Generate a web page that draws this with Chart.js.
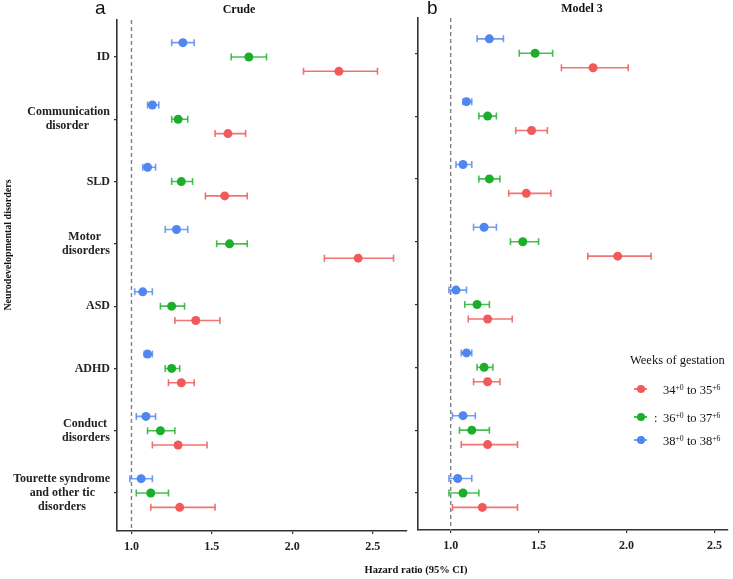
<!DOCTYPE html>
<html>
<head>
<meta charset="utf-8">
<script src="https://cdn.jsdelivr.net/npm/chart.js@4.4.0/dist/chart.umd.min.js"></script>
<style>
body{margin:0;background:#fff;}
#wrap{position:relative;width:733px;height:579px;overflow:hidden;font-family:"Liberation Serif","Times New Roman",serif;color:#111;}
#wrap canvas{position:absolute;top:0;}
.lbl{position:absolute;line-height:1;white-space:nowrap;}
.bold{font-weight:bold;}
.tag{font-family:"Liberation Sans",Arial,sans-serif;font-size:19px;}
.key{position:absolute;width:13px;height:8px;}
.key .ln{position:absolute;left:0;top:3px;width:13px;height:1.5px;}
.key .dt{position:absolute;left:2.5px;top:0;width:8px;height:8px;border-radius:50%;}
sup{font-size:0.62em;vertical-align:0.55em;line-height:0;}
</style>
</head>
<body>
<div id="wrap">
  <canvas id="crude" width="412" height="579" style="left:0"></canvas>
  <canvas id="model3" width="323" height="579" style="left:410px"></canvas>

  <div class="lbl tag" style="left:95px;top:-2px">a</div>
  <div class="lbl tag" style="left:427px;top:-2px">b</div>
  <div class="lbl bold" style="left:199px;top:2.5px;width:80px;text-align:center;font-size:12px">Crude</div>
  <div class="lbl bold" style="left:542px;top:2px;width:80px;text-align:center;font-size:12px">Model 3</div>
  <div class="lbl bold" style="left:336px;top:565px;width:160px;text-align:center;font-size:10.5px">Hazard ratio (95% CI)</div>
  <div class="lbl bold" style="left:-72px;top:240px;width:160px;text-align:center;font-size:10px;transform:rotate(-90deg)">Neurodevelopmental disorders</div>

  <div class="lbl" style="left:630px;top:353.5px;font-size:12.5px">Weeks of gestation</div>
  <div id="legend"></div>
</div>

<script>
// categories (top to bottom)
const categories = [
    "ID",
    ["Communication", "disorder"],
    "SLD",
    ["Motor", "disorders"],
    "ASD",
    "ADHD",
    ["Conduct", "disorders"],
    ["Tourette syndrome", "and other tic", "disorders"]
];
const seriesNames = [
    ["34", "+0", " to 35", "+6"],
    ["36", "+0", " to 37", "+6"],
    ["38", "+0", " to 38", "+6"]
];
const xTickValues = [1.0, 1.5, 2.0, 2.5];
const refLine = 1.0;

// Crude hazard ratios and 95% CI
const crudeHR34 = [2.29, 1.60, 1.58, 2.41, 1.40, 1.31, 1.29, 1.30];
const crudeLo34 = [2.07, 1.52, 1.46, 2.20, 1.27, 1.23, 1.13, 1.12];
const crudeHi34 = [2.53, 1.71, 1.72, 2.63, 1.55, 1.39, 1.47, 1.52];
const crudeHR36 = [1.73, 1.29, 1.31, 1.61, 1.25, 1.25, 1.18, 1.12];
const crudeLo36 = [1.62, 1.25, 1.25, 1.53, 1.18, 1.21, 1.10, 1.03];
const crudeHi36 = [1.84, 1.35, 1.38, 1.72, 1.33, 1.30, 1.27, 1.23];
const crudeHR38 = [1.32, 1.13, 1.10, 1.28, 1.07, 1.10, 1.09, 1.06];
const crudeLo38 = [1.25, 1.10, 1.07, 1.21, 1.02, 1.08, 1.03, 0.99];
const crudeHi38 = [1.39, 1.17, 1.15, 1.35, 1.13, 1.13, 1.15, 1.13];

// Model 3 hazard ratios and 95% CI
const m3HR34 = [1.81, 1.46, 1.43, 1.95, 1.21, 1.21, 1.21, 1.18];
const m3Lo34 = [1.63, 1.37, 1.33, 1.78, 1.10, 1.13, 1.06, 1.01];
const m3Hi34 = [2.01, 1.55, 1.57, 2.14, 1.35, 1.28, 1.38, 1.38];
const m3HR36 = [1.48, 1.21, 1.22, 1.41, 1.15, 1.19, 1.12, 1.07];
const m3Lo36 = [1.39, 1.16, 1.16, 1.34, 1.08, 1.15, 1.05, 0.99];
const m3Hi36 = [1.58, 1.26, 1.28, 1.50, 1.22, 1.24, 1.22, 1.16];
const m3HR38 = [1.22, 1.09, 1.07, 1.19, 1.03, 1.09, 1.07, 1.04];
const m3Lo38 = [1.15, 1.07, 1.03, 1.13, 0.99, 1.06, 1.01, 0.99];
const m3Hi38 = [1.30, 1.12, 1.12, 1.26, 1.09, 1.12, 1.14, 1.12];

// styles
const pointColors = ["#F05A5A", "#1BAE2A", "#4F86F0"];
const barColors = ["rgba(240,90,90,0.85)", "rgba(27,174,42,0.8)", "rgba(79,134,240,0.8)"];
const dodge = [0.23, 0, -0.23];
const inkColor = "#222";

function centerLines(label){
    if(!Array.isArray(label)){
        return label;
    }
    var ctx = document.createElement("canvas").getContext("2d");
    ctx.font = 'bold 12px "Liberation Serif"';
    var widths = label.map(l => ctx.measureText(l).width);
    var maxW = Math.max(...widths);
    var sp = ctx.measureText(" ").width;
    return label.map((l, i) => l + " ".repeat(Math.round((maxW - widths[i]) / 2 / sp)));
}

function buildDatasets(hr, lo, hi, yMin, yMax){
    var sets = [];
    for(var s = 0; s < hr.length; s++){
        var pts = [];
        var bars = [];
        for(var i = 0; i < categories.length; i++){
            var y = i + dodge[s];
            pts.push({x: hr[s][i], y: y});
            bars.push({x: lo[s][i], y: y});
            bars.push({x: hi[s][i], y: y});
            bars.push({x: hi[s][i], y: null});
        }
        sets.push({
            data: pts,
            showLine: false,
            pointRadius: 4.5,
            pointBackgroundColor: pointColors[s],
            pointBorderWidth: 0,
            order: 0
        });
        sets.push({
            data: bars,
            borderColor: barColors[s],
            borderWidth: 1.6,
            spanGaps: false,
            pointStyle: "line",
            rotation: 90,
            pointRadius: 3.5,
            pointBorderWidth: 1.6,
            pointBorderColor: barColors[s],
            order: 1
        });
    }
    sets.push({
        data: [{x: refLine, y: yMin}, {x: refLine, y: yMax}],
        borderColor: "#808080",
        borderWidth: 1.4,
        borderDash: [4, 3],
        pointRadius: 0,
        order: 2
    });
    return sets;
}

function panel(id, hr, lo, hi, opt){
    var labels = categories.map(centerLines);
    var cfg = {
        type: "line",
        data: {datasets: buildDatasets(hr, lo, hi, opt.yMin, opt.yMax)},
        options: {
            responsive: false,
            animation: false,
            layout: {padding: {top: opt.top, right: opt.right, left: 0, bottom: 0}},
            plugins: {legend: {display: false}, tooltip: {enabled: false}},
            scales: {
                x: {
                    type: "linear",
                    min: opt.xMin,
                    max: opt.xMax,
                    afterBuildTicks: function(s){ s.ticks = xTickValues.map(v => ({value: v})); },
                    afterFit: function(s){
                        s.height = opt.xHeight;
                        s.paddingLeft = 0;
                        s.paddingRight = 0;
                    },
                    ticks: {
                        color: inkColor,
                        padding: 6,
                        font: {family: '"Liberation Serif"', size: 12, weight: "bold"},
                        callback: v => v.toFixed(1)
                    },
                    grid: {display: true, drawOnChartArea: false, drawTicks: true, tickLength: 3, color: "#333", lineWidth: 1.2},
                    border: {display: true, color: "#333", width: 1.6}
                },
                y: {
                    type: "linear",
                    reverse: true,
                    min: opt.yMin,
                    max: opt.yMax,
                    afterBuildTicks: function(s){ s.ticks = categories.map((c, i) => ({value: i})); },
                    afterFit: function(s){
                        s.width = opt.yWidth;
                        s.paddingTop = 0;
                        s.paddingBottom = 0;
                    },
                    ticks: {
                        display: opt.showLabels,
                        color: inkColor,
                        padding: 4,
                        font: {family: '"Liberation Serif"', size: 12, weight: "bold", lineHeight: 1.15},
                        callback: (v, i) => labels[i]
                    },
                    grid: {display: true, drawOnChartArea: false, drawTicks: true, tickLength: 3, color: "#333", lineWidth: 1.2},
                    border: {display: true, color: "#333", width: 1.6}
                }
            }
        }
    };
    return new Chart(document.getElementById(id), cfg);
}

function legend(){
    var rows = [389, 417, 440];
    var html = "";
    seriesNames.forEach(function(n, s){
        html += '<div class="key" style="left:634px;top:' + (rows[s] - 4) + 'px">' +
            '<div class="ln" style="background:' + barColors[s] + '"></div>' +
            '<div class="dt" style="background:' + pointColors[s] + '"></div></div>';
        html += '<div class="lbl" style="left:663px;top:' + (rows[s] - 5.5) + 'px;font-size:12.5px">' +
            n[0] + '<sup>' + n[1] + '</sup>' + n[2] + '<sup>' + n[3] + '</sup></div>';
    });
    html += '<div class="lbl" style="left:654px;top:' + (rows[1] - 5.5) + 'px;font-size:12.5px">:</div>';
    document.getElementById("legend").innerHTML = html;
}

panel("crude",
    [crudeHR34, crudeHR36, crudeHR38],
    [crudeLo34, crudeLo36, crudeLo38],
    [crudeHi34, crudeHi36, crudeHi38],
    {xMin: 0.91, xMax: 2.71, yMin: -0.594, yMax: 7.61, top: 20, right: 4, yWidth: 117, xHeight: 48, showLabels: true});

panel("model3",
    [m3HR34, m3HR36, m3HR38],
    [m3Lo34, m3Lo36, m3Lo38],
    [m3Hi34, m3Hi36, m3Hi38],
    {xMin: 0.814, xMax: 2.574, yMin: -0.562, yMax: 7.59, top: 18, right: 3, yWidth: 8, xHeight: 49, showLabels: false});

legend();
</script>
</body>
</html>
